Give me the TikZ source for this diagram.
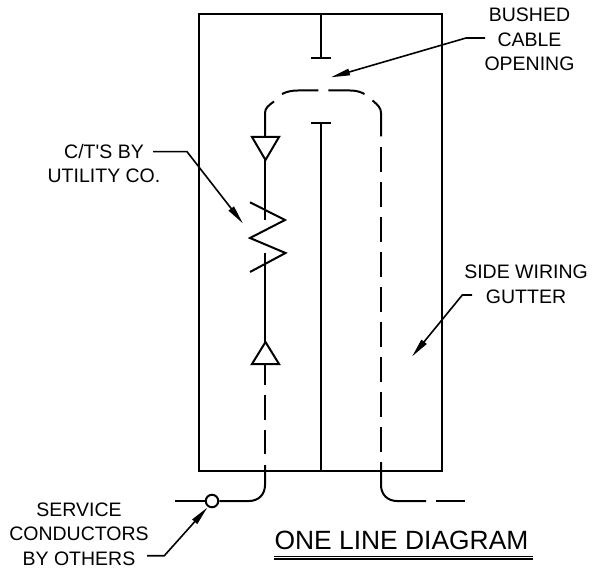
\documentclass[tikz,border=0pt]{standalone}
\usepackage{fontspec}
\setmainfont{Liberation Sans}
\usetikzlibrary{arrows.meta}
\tikzset{
  wire/.style={line width=2pt,line join=miter},
  frame/.style={line width=2pt},
  leader/.style={line width=1.6pt,-{Triangle[length=19pt,width=6.5pt]},shorten >=-1pt},
  lbl/.style={font=\fontsize{19.5}{24.5}\selectfont,align=center,inner sep=0pt},
  termnode/.style={circle,draw,line width=2pt,fill=white,minimum size=12.5pt,inner sep=0pt}
}
\begin{document}
\begin{tikzpicture}[x=1pt,y=-1pt]
\useasboundingbox (0,0) rectangle (593,569);
% enclosure
\draw[frame] (198.5,14) rectangle (441.5,471);
% bus
\draw[wire] (320.5,14) -- (320.5,58);
\draw[wire] (311,58) -- (330.5,58);
\draw[wire] (311,123) -- (330.5,123);
\draw[wire] (320.5,123) -- (320.5,471);
% top loop
\draw[wire] (265,137) -- (265,113) .. controls (265,108) and (269,105) .. (274,101.5);
\draw[wire] (282,94) .. controls (287,91.5) and (292,90.5) .. (298,90.5) -- (318.3,90.5);
\draw[wire] (328.3,90.5) -- (350,90.5) .. controls (355,90.5) and (360,91.5) .. (364.5,94);
\draw[wire] (372.5,100.5) .. controls (378,105) and (381,108) .. (381,113) -- (381,136.5);
% right dashes
\foreach \y in {147,182,217,252,287,322,357,392,427}
  \draw[wire] (381,\y) -- (381,\y+25);
\draw[wire] (381,462) -- (381,485) .. controls (381,495) and (388,501) .. (397,501) -- (426,501);
\draw[wire] (436,501) -- (465,501);
% left dashes
\draw[wire] (265,364) -- (265,385);
\draw[wire] (265,395) -- (265,420);
\draw[wire] (265,430) -- (265,454);
% CT and triangles
\draw[wire] (252,137) -- (279,137) -- (265.5,160) -- cycle;
\draw[wire] (252,364) -- (279,364) -- (265.5,342) -- cycle;
\draw[wire] (265,160) -- (265,220);
\draw[wire] (265,253) -- (265,342);
\draw[wire,line join=miter] (250,202.3) -- (285,220) -- (250,238) -- (285.5,253) -- (250,272);
% service
\node[termnode] (term) at (212,501) {};
\coordinate (svcS) at (265,465);
\coordinate (svcL) at (175,501);
\draw[wire] (svcS) -- (265,485) .. controls (265,495) and (258,501) .. (249,501) -- (term);
\draw[wire] (svcL) -- (term);
% labels
\node[lbl] (bushed) at (529.5,39.3) {BUSHED\\CABLE\\OPENING};
\node[lbl] (ct) at (104,163.3) {C/T\textquotesingle S BY\\UTILITY CO.};
\node[lbl] (side) at (526,284.5) {SIDE WIRING\\GUTTER};
\node[lbl] (service) at (79,534) {SERVICE\\CONDUCTORS\\BY OTHERS};
\node[inner sep=0pt,anchor=base,font=\fontsize{26.4}{30}\selectfont] (title) at (401.5,549) {ONE LINE DIAGRAM};
% title underline
\coordinate (ulA) at (274,556.5); \coordinate (ulB) at (532.7,556.5);
\coordinate (ulC) at (274,559.2); \coordinate (ulD) at (532.7,559.2);
\draw[line width=1.6pt] (ulA) -- (ulB);
\draw[line width=1.6pt] (ulC) -- (ulD);
% leaders
\coordinate (bushedEnd) at (485,38); \coordinate (bushedBend) at (466,38); \coordinate (bushedTip) at (332,77);
\draw[leader] (bushedEnd) -- (bushedBend) -- (bushedTip);
\coordinate (ctEnd) at (153,151.7); \coordinate (ctBend) at (187,151.7); \coordinate (ctTip) at (242.3,222.7);
\draw[leader] (ctEnd) -- (ctBend) -- (ctTip);
\coordinate (sideEnd) at (472,295); \coordinate (sideBend) at (462.3,295); \coordinate (sideTip) at (412.7,355.7);
\draw[leader] (sideEnd) -- (sideBend) -- (sideTip);
\coordinate (svcEnd) at (147,555.7); \coordinate (svcBend) at (164.3,555.7); \coordinate (svcTip) at (206.7,508.3);
\draw[leader] (svcEnd) -- (svcBend) -- (svcTip);
\end{tikzpicture}
\end{document}
